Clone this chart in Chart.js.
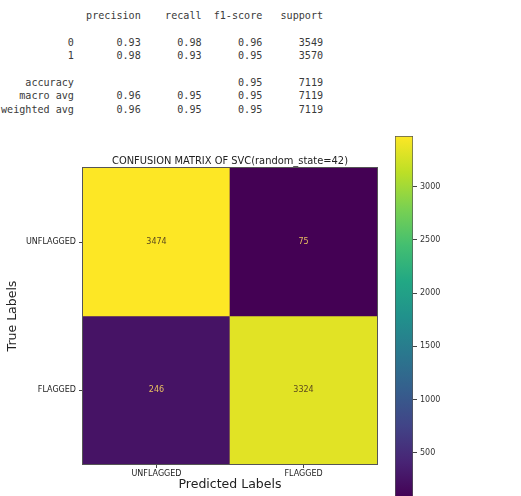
<!DOCTYPE html>
<html>
<head>
<meta charset="utf-8">
<script src="https://cdn.jsdelivr.net/npm/chart.js@4.4.0/dist/chart.umd.min.js"></script>
<style>
  html, body { margin: 0; padding: 0; background: #fff; }
  body { width: 521px; height: 496px; position: relative; overflow: hidden; }
  #report { position: absolute; left: 1px; top: 9px; margin: 0; font: 10.1px/13.4px 'DejaVu Sans Mono', monospace; color: #3a3a3a; }
  #matrix { position: absolute; left: 0; top: 125px; }
  #colorbar { position: absolute; left: 380px; top: 120px; }
</style>
</head>
<body>
<pre id="report"></pre>
<canvas id="matrix" width="390" height="371"></canvas>
<canvas id="colorbar" width="141" height="386"></canvas>
<script>
// classification report
const reportHeaders = ['precision', 'recall', 'f1-score', 'support']
const reportLabels = ['0', '1', 'accuracy', 'macro avg', 'weighted avg']
const precision = [0.93, 0.98, null, 0.96, 0.96]
const recall = [0.98, 0.93, null, 0.95, 0.95]
const f1Score = [0.96, 0.95, 0.95, 0.95, 0.95]
const support = [3549, 3570, 7119, 7119, 7119]

// confusion matrix
const chartTitle = 'CONFUSION MATRIX OF SVC(random_state=42)'
const predictedLabels = ['UNFLAGGED', 'FLAGGED']
const trueLabels = ['UNFLAGGED', 'FLAGGED']
const rowUnflagged = [3474, 75]
const rowFlagged = [246, 3324]
const colorbarTicks = [500, 1000, 1500, 2000, 2500, 3000]

const reportRow = i =>
  reportLabels[i].padStart(12) + ' ' +
  [precision[i], recall[i], f1Score[i]]
    .map(v => ' ' + (v == null ? '' : v.toFixed(2)).padStart(9)).join('') +
  ' ' + String(support[i]).padStart(9)

document.getElementById('report').textContent = [
  ' '.repeat(13) + reportHeaders.map(h => ' ' + h.padStart(9)).join(''),
  '',
  reportRow(0),
  reportRow(1),
  '',
  reportRow(2),
  reportRow(3),
  reportRow(4)
].join('\n')

Chart.defaults.font.family = 'DejaVu Sans'

const viridisStops = ['#440154', '#482475', '#414487', '#355f8d', '#2a788e', '#21918c',
  '#22a884', '#44bf70', '#7ad151', '#bddf26', '#fde725']

const hexToRgb = h => [1, 3, 5].map(i => parseInt(h.slice(i, i + 2), 16))

const viridis = t => {
  const pos = Math.max(0, Math.min(1, t)) * (viridisStops.length - 1)
  const i = Math.min(Math.floor(pos), viridisStops.length - 2)
  const f = pos - i
  const a = hexToRgb(viridisStops[i])
  const b = hexToRgb(viridisStops[i + 1])
  const c = a.map((v, k) => Math.round(v + (b[k] - v) * f))
  return `rgb(${c[0]},${c[1]},${c[2]})`
}

const rows = [rowUnflagged, rowFlagged]
const allCounts = rows.flat()
const vmin = Math.min(...allCounts)
const vmax = Math.max(...allCounts)
const norm = v => (v - vmin) / (vmax - vmin)

const cellLabels = {
  id: 'cellLabels',
  afterDatasetsDraw: chart => {
    const { ctx } = chart
    ctx.save()
    ctx.font = '8px "DejaVu Sans"'
    ctx.textAlign = 'center'
    ctx.textBaseline = 'middle'
    chart.data.datasets.forEach((ds, di) => {
      chart.getDatasetMeta(di).data.forEach((el, i) => {
        const v = ds.counts[i]
        const p = el.getCenterPoint()
        ctx.fillStyle = norm(v) > 0.5 ? '#5c4a1e' : '#e8c060'
        ctx.fillText(String(v), p.x, p.y)
      })
    })
    ctx.restore()
  }
}

const frameAndTitle = {
  id: 'frameAndTitle',
  afterDraw: chart => {
    const { ctx, chartArea: a } = chart
    ctx.save()
    ctx.strokeStyle = '#555'
    ctx.lineWidth = 1
    ctx.strokeRect(Math.round(a.left) - 0.5, Math.round(a.top) - 0.5,
      Math.round(a.right - a.left) + 1, Math.round(a.bottom - a.top) + 1)
    ctx.fillStyle = '#222'
    ctx.font = '9.9px "DejaVu Sans"'
    ctx.textAlign = 'center'
    ctx.textBaseline = 'middle'
    ctx.fillText(chartTitle, (a.left + a.right) / 2, a.top - 7)
    ctx.restore()
  }
}

new Chart(document.getElementById('matrix'), {
  type: 'bar',
  data: {
    labels: predictedLabels,
    datasets: trueLabels.map((label, r) => ({
      label,
      counts: rows[r],
      data: rows[r].map(() => [trueLabels.length - 1 - r, trueLabels.length - r]),
      backgroundColor: rows[r].map(v => viridis(norm(v)))
    }))
  },
  options: {
    responsive: false,
    animation: false,
    devicePixelRatio: 1,
    layout: { padding: { left: 0, right: 13, top: 43, bottom: 0 } },
    datasets: { bar: { grouped: false, barPercentage: 1, categoryPercentage: 1, borderWidth: 0 } },
    plugins: { legend: { display: false }, tooltip: { enabled: false }, title: { display: false } },
    scales: {
      x: {
        grid: { offset: false, drawOnChartArea: false, drawTicks: true, tickLength: 4, color: '#444' },
        border: { display: false },
        ticks: { font: { size: 8 }, color: '#222', padding: 1, maxRotation: 0 },
        title: { display: true, text: 'Predicted Labels', color: '#222', font: { size: 12.5 }, padding: { top: 0, bottom: 3.5 } },
        afterFit: s => { s.height = 32 }
      },
      y: {
        min: 0,
        max: trueLabels.length,
        afterBuildTicks: s => { s.ticks = trueLabels.map((_, i) => ({ value: trueLabels.length - 0.5 - i })) },
        grid: { drawOnChartArea: false, drawTicks: true, tickLength: 4, color: '#444' },
        border: { display: false },
        ticks: {
          font: { size: 8 },
          color: '#222',
          padding: 3,
          callback: v => trueLabels[Math.round(trueLabels.length - 0.5 - v)]
        },
        title: { display: true, text: 'True Labels', color: '#222', font: { size: 12.5 }, padding: { top: 5, bottom: 0 } },
        afterFit: s => { s.width = 83 }
      }
    }
  },
  plugins: [cellLabels, frameAndTitle]
})

new Chart(document.getElementById('colorbar'), {
  type: 'bar',
  data: {
    labels: [''],
    datasets: [{
      data: [[vmin, vmax]],
      backgroundColor: c => {
        const a = c.chart.chartArea
        if (!a) return viridisStops[0]
        const g = c.chart.ctx.createLinearGradient(0, a.bottom, 0, a.top)
        viridisStops.forEach((col, i) => g.addColorStop(i / (viridisStops.length - 1), col))
        return g
      },
      borderColor: '#555',
      borderWidth: 1,
      borderSkipped: false,
      barPercentage: 1,
      categoryPercentage: 1
    }]
  },
  options: {
    responsive: false,
    animation: false,
    devicePixelRatio: 1,
    layout: { padding: { left: 15, right: 0, top: 16, bottom: 0 } },
    plugins: { legend: { display: false }, tooltip: { enabled: false } },
    scales: {
      x: { display: false },
      y: {
        position: 'right',
        min: vmin,
        max: vmax,
        afterBuildTicks: s => { s.ticks = colorbarTicks.map(v => ({ value: v })) },
        grid: { drawOnChartArea: false, drawTicks: true, tickLength: 4, color: '#444' },
        border: { display: false },
        ticks: { font: { size: 8 }, color: '#333', padding: 3, callback: v => String(v) },
        afterFit: s => { s.width = 108 }
      }
    }
  }
})
</script>
</body>
</html>
